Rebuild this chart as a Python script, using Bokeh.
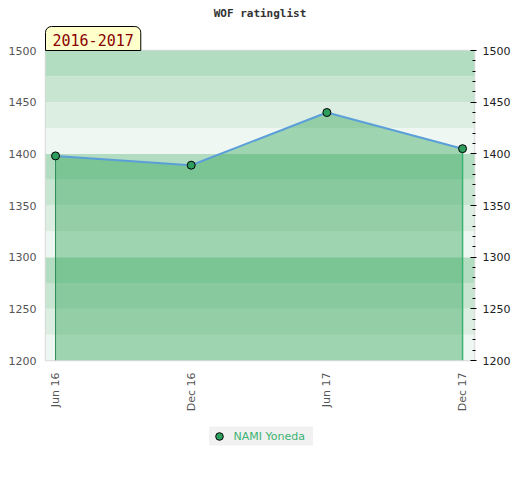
import math
from bokeh.plotting import figure
from bokeh.layouts import column
from bokeh.models import (Range1d, LinearAxis, FixedTicker, SingleIntervalTicker,
                          BoxAnnotation, Title, Legend, LegendItem)
from bokeh.embed import file_html
from bokeh.resources import INLINE

# ---- data ----
TITLE = "WOF ratinglist"
SEASON = "2016-2017"
PLAYER = "NAMI Yoneda"
X_LABELS = ["Jun 16", "Dec 16", "Jun 17", "Dec 17"]
X = [0, 1, 2, 3]
RATING = [1398, 1389, 1440, 1405]
Y_MIN, Y_MAX = 1200, 1500
BAND_STEP = 25
BAND_COLORS = ["#eff7f2", "#dcede2", "#c8e5d2", "#b3ddc1"]

FONT = "DejaVu Sans"
MARKER = dict(size=8, fill_color="#2e9e5e", line_color="black", line_width=1)

p = figure(frame_width=429, frame_height=310,
           x_range=Range1d(-0.074, 3.088), y_range=Range1d(Y_MIN, Y_MAX),
           output_backend="svg", toolbar_location=None,
           min_border_left=45, min_border_right=44, min_border_top=50,
           min_border_bottom=60, title=None)

p.grid.visible = False
p.outline_line_color = "#d9d9d9"
p.outline_line_width = 1.5
p.background_fill_color = "white"

# background bands
for i, b in enumerate(range(Y_MIN, Y_MAX, BAND_STEP)):
    p.add_layout(BoxAnnotation(bottom=b, top=b + BAND_STEP,
                               fill_color=BAND_COLORS[i % 4], fill_alpha=1,
                               line_color=None, level="underlay"))

# area under line
p.varea(x=X, y1=[Y_MIN] * len(X), y2=RATING, fill_color="#28a050", fill_alpha=0.4)
p.segment(x0=[X[0]], y0=[Y_MIN], x1=[X[0]], y1=[RATING[0]], line_color="#2e8b57", line_width=1)
p.segment(x0=[X[-1]], y0=[Y_MIN], x1=[X[-1]], y1=[RATING[-1]], line_color="#3cb371", line_width=1.5)
p.line(X, RATING, line_color="#5b9fd8", line_width=2)
p.scatter(X, RATING, **MARKER)

# axes
ly = p.yaxis[0]
ly.ticker = SingleIntervalTicker(interval=50, num_minor_ticks=5)
ly.major_tick_in = 0
ly.major_tick_out = 0
ly.minor_tick_in = 0
ly.minor_tick_out = 0
ly.axis_line_color = None
ly.major_label_standoff = 9
ly.major_label_text_font = FONT
ly.major_label_text_font_size = "11px"
ly.major_label_text_color = "#555555"

ry = LinearAxis(ticker=SingleIntervalTicker(interval=50, num_minor_ticks=5))
ry.major_tick_in = 4
ry.major_tick_out = 2
ry.minor_tick_in = 2
ry.minor_tick_out = 1
ry.major_tick_line_color = "black"
ry.minor_tick_line_color = "black"
ry.axis_line_color = None
ry.major_label_standoff = 6
ry.major_label_text_font = FONT
ry.major_label_text_font_size = "11px"
ry.major_label_text_color = "#222222"
p.add_layout(ry, "right")

xa = p.xaxis[0]
xa.ticker = FixedTicker(ticks=X)
xa.major_label_overrides = {x: l for x, l in zip(X, X_LABELS)}
xa.major_label_orientation = math.pi / 2
xa.major_tick_in = 0
xa.major_tick_out = 0
xa.minor_tick_in = 0
xa.minor_tick_out = 0
xa.axis_line_color = None
xa.major_label_standoff = 12
xa.major_label_text_font = FONT
xa.major_label_text_font_size = "11px"
xa.major_label_text_color = "#555555"

# season tag (nearest the frame) and chart title
season = Title(text=SEASON, align="left", standoff=0, offset=0,
               text_font="DejaVu Sans Mono", text_font_size="15px", text_font_style="normal",
               text_color="#8b0000", background_fill_color="#ffffcc",
               border_line_color="black", border_line_width=1,
               padding=dict(left=7, right=7, top=7, bottom=5),
               border_radius=(6, 6, 0, 0))
p.add_layout(season, "above")
main = Title(text=TITLE, align="center", text_font="DejaVu Sans Mono", text_font_size="11px",
             text_font_style="bold", text_color="#333333", standoff=9)
p.add_layout(main, "above")

# legend strip below the chart (series drawn off-view, only its legend shows)
lg = figure(width=520, height=32, x_range=Range1d(0, 1), y_range=Range1d(0, 1),
            output_backend="svg", toolbar_location=None,
            x_axis_location=None, y_axis_location=None,
            min_border_left=0, min_border_right=0, min_border_top=0, min_border_bottom=0)
lg.grid.visible = False
lg.outline_line_color = None
proxy = lg.scatter(X, RATING, **MARKER)
legend = Legend(items=[LegendItem(label=PLAYER, renderers=[proxy])], orientation="horizontal",
                location="center", background_fill_color="#f0f0f0", border_line_color=None,
                label_text_color="#3cb371", label_text_font=FONT, label_text_font_size="11px",
                glyph_width=20, glyph_height=19, label_height=19, label_width=79,
                label_standoff=5, padding=0, margin=0, spacing=0)
lg.add_layout(legend)

layout = column(p, lg, spacing=0)
open("out.html", "w").write(file_html(layout, INLINE))
